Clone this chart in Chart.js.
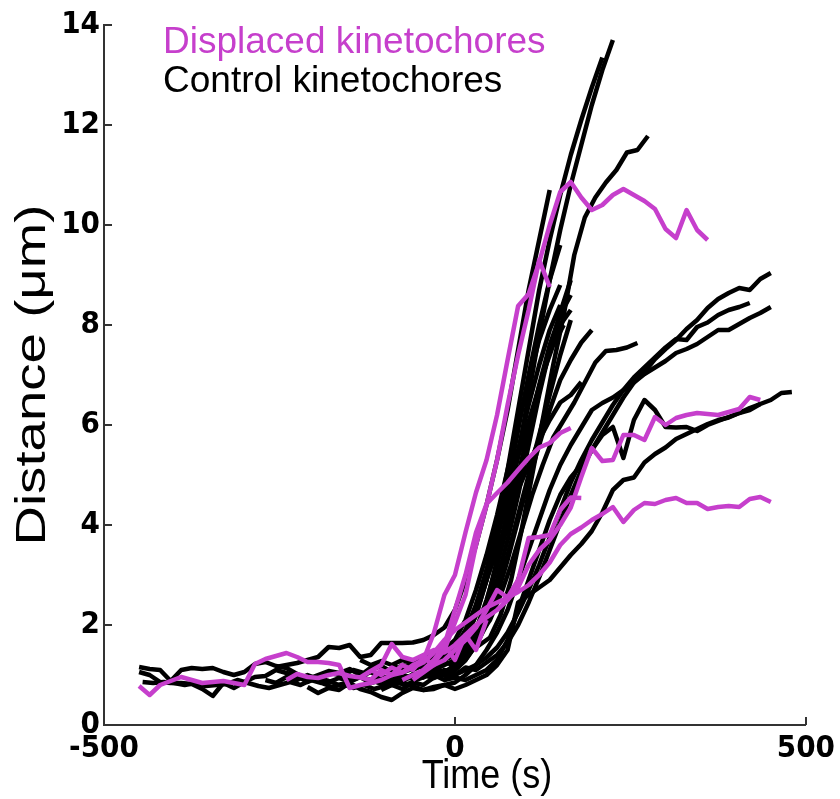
<!DOCTYPE html>
<html>
<head>
<meta charset="utf-8">
<script src="https://cdn.jsdelivr.net/npm/chart.js@4.4.1/dist/chart.umd.min.js"></script>
<style>
body { margin: 0; background: #fff; }
#wrap { width: 840px; height: 799px; }
</style>
</head>
<body>
<div id="wrap"><canvas id="mycanvas"></canvas></div>
<script>
// frames are 15 s apart, every trace starts at its own time
var STEP = 15;
var xTicks = [-500, 0, 500];
var yTicks = [0, 2, 4, 6, 8, 10, 12, 14];
var legendText = ['Displaced kinetochores', 'Control kinetochores'];
var xTitle = 'Time (s)';
var yTitle = 'Distance (\u03bcm)';
var MAGENTA = '#c63fcc';

/* control kinetochores (black) */
var ctl01 = [1.16,1.12,1.1,0.88,1.1,1.14,1.12,1.14,1.06,1.0,1.06,1.22,1.26,1.18,1.14,1.02,0.92,1.0,1.08,1.04,1.12,1.0,1.1,1.18,1.06,1.2,1.14,1.3,1.24,1.4,1.48,1.62,1.85,2.45,3.3,4.3,5.4,6.6,7.8,8.9,9.9,10.8,11.6,12.4,13.1,13.7];
var ctl02 = [1.06,1.0,0.86,0.84,0.84,0.82,0.72,0.58,0.84,0.74,0.86,0.96,0.98,1.1,1.04,0.98,0.86,0.94,0.88,0.8,0.86,0.96,0.9,0.98,0.88,1.0,0.94,1.08,1.2,1.35,1.55,1.9,2.4,3.1,4.0,5.1,6.3,7.5,8.7,9.7,10.6,11.4,12.1,12.75,13.35];
var ctl03 = [0.86,0.84,0.86,0.84,0.8,0.84,0.78,0.8,0.82,0.9,0.84,0.78,0.74,0.8,0.86,0.8,0.9,0.84,0.76,0.82,0.74,0.8,0.72,0.78,0.86,0.8,0.9,0.98,1.05,1.1,1.25,1.45,1.6,1.75,2.2,2.9,3.9,5.0,6.1,7.2,8.2,9.4,10.15,10.55,10.85,11.1,11.45,11.5,11.78];
var ctl04 = [1.16,1.2,1.24,1.3,1.36,1.56,1.54,1.6,1.36,1.4,1.64,1.64,1.64,1.65,1.7,1.8,1.95,2.3,2.9,3.6,4.4,5.3,6.3,7.5,8.7,9.7,10.7];
var ctl05 = [1.1,1.2,1.35,1.3,1.5,1.75,2.2,2.9,3.8,4.8,5.9,7.0,8.0,8.9,9.6];
var ctl06 = [0.9,1.0,0.95,1.1,1.2,1.3,1.45,1.7,2.2,2.9,3.7,4.6,5.6,6.6,7.5,8.25,8.9];
var ctl07 = [1.0,1.15,1.05,1.2,1.4,1.8,2.4,3.2,4.1,5.0,5.9,6.8,7.6,8.2,8.6];
var ctl08 = [0.9,0.82,0.95,0.88,1.02,0.96,1.1,1.25,1.2,1.5,1.9,2.5,3.2,4.0,4.9,5.8,6.7,7.5,8.0,8.3];
var ctl09 = [1.2,1.3,1.4,1.6,2.0,2.6,3.3,4.1,4.9,5.6,6.3,7.0,7.6,8.0];
var ctl10 = [0.7,0.8,0.72,0.85,0.8,0.95,1.0,1.1,1.3,1.6,2.0,2.6,3.3,4.1,4.9,5.6,6.3,6.9,7.3,7.65,7.9];
var ctl11 = [1.0,1.1,1.04,1.2,1.12,1.0,1.08,1.15,1.2,1.3,1.35,1.45,1.6,1.8,2.1,2.6,3.2,3.9,4.6,5.2,5.75,6.1,6.45,6.85,7.25,7.48,7.5,7.55,7.64];
var ctl12 = [0.95,1.05,1.0,0.9,0.96,1.06,0.92,1.0,0.9,0.96,1.05,0.98,1.1,1.0,1.15,1.1,1.25,1.4,1.65,2.0,2.45,2.95,3.5,4.05,4.6,5.1,5.5,5.85,6.2,6.55,6.85,7.06,7.32,7.52,7.7,7.92,8.1,8.34,8.52,8.64,8.74,8.7,8.92,9.04];
var ctl13 = [0.9,1.0,0.94,1.05,1.0,1.1,1.2,1.35,1.55,1.85,2.25,2.7,3.2,3.75,4.3,4.85,5.3,5.7,6.05,6.4,6.7,6.95,7.15,7.35,7.55,7.72,7.7,7.96,8.05,8.2,8.3,8.36,8.44];
var ctl14 = [0.76,0.64,0.74,0.7,0.84,0.72,0.66,0.56,0.5,0.64,0.74,0.7,0.72,0.8,0.85,1.0,1.2,1.5,1.85,2.3,2.9,3.5,4.1,4.7,5.2,5.6,5.95,6.3,6.44,6.55,6.7,6.85,7.02,7.15,7.28,7.44,7.52,7.62,7.76,7.9,7.9,8.02,8.14,8.24,8.36];
var ctl15 = [0.9,0.84,0.96,0.9,1.0,0.92,0.86,0.94,0.88,0.96,0.84,0.9,0.8,0.86,0.78,0.7,0.76,0.8,0.72,0.8,0.9,1.0,1.2,1.5,2.45,2.6,2.75,2.9,3.15,3.4,3.62,3.88,4.25,4.7,4.9,4.95,5.25,5.42,5.55,5.72,5.82,5.92,6.02,6.1,6.15,6.24,6.3,6.42,6.5,6.64,6.66];
var ctl16 = [1.0,0.9,0.95,0.9,1.0,1.1,1.3,1.7,2.3,2.9,3.5,4.1,4.6,4.95,5.2,5.5,5.8,5.96,5.34,6.1,6.5,6.3,5.96,5.95,5.96,5.88,6.0,6.08,6.16,6.24,6.34,6.42];
var ctl17 = [1.2,1.1,1.25,1.15,1.3,1.4,1.5,1.8,2.3,2.9,3.5,4.1,4.7,5.2,5.7,6.1,6.45,6.6,6.86];
var ctl18 = [1.2,1.3,1.4,1.7,2.2,2.9,3.7,4.6,5.5,6.4,7.2,7.9,8.4];
var ctl19 = [0.9,1.1,1.3,1.6,2.1,2.7,3.4,4.2,5.0,5.8,6.6,7.4,8.1];
var ctl20 = [1.3,1.2,1.28,1.2,1.3,1.22,1.35,1.4,1.5,1.7,2.1,2.7,3.4,4.2,5.1,6.0,6.9,7.7,8.3,8.8];
var control = [ctl01,ctl02,ctl03,ctl04,ctl05,ctl06,ctl07,ctl08,ctl09,ctl10,ctl11,ctl12,ctl13,ctl14,ctl15,ctl16,ctl17,ctl18,ctl19,ctl20];
var controlStarts = [-450,-450,-445,-255,-60,-75,-45,-120,-40,-105,-160,-195,-60,-210,-270,-30,-90,-30,-15,-135];

/* displaced kinetochores (magenta) */
var dis01 = [0.78,0.6,0.8,0.88,0.96,0.9,0.84,0.86,0.88,0.84,0.8,1.22,1.32,1.38,1.44,1.36,1.26,1.26,1.24,1.2,0.74,0.8,0.84,0.9,1.0,1.05,1.15,1.25,1.45,1.7,1.9,2.05,2.2,2.35,2.45,2.55,2.66,2.8,3.0,3.25,3.6,3.82,3.95,4.1,4.22,4.36,4.06,4.3,4.44,4.42,4.5,4.54,4.44,4.44,4.32,4.36,4.38,4.36,4.52,4.56,4.46];
var dis02 = [0.9,1.02,0.96,0.94,1.0,1.04,0.98,0.95,1.08,1.2,1.62,1.36,1.3,1.4,1.5,1.45,1.6,1.8,2.0,2.15,2.3,2.5,2.75,3.2,3.5,3.7,4.0,4.35,4.96,5.54,5.28,5.3,5.8,5.8,5.7,6.16,6.0,6.14,6.2,6.24,6.22,6.2,6.26,6.32,6.56,6.5];
var dis03 = [1.1,1.0,1.15,1.05,1.2,1.3,1.84,2.6,3.0,3.85,4.65,5.3,6.2,7.3,8.38,8.62,9.25,10.0,10.66,10.86,10.55,10.3,10.4,10.6,10.72,10.6,10.48,10.32,9.92,9.74,10.3,9.9,9.7];
var dis04 = [0.95,1.1,1.25,1.5,2.05,2.6,3.6,4.4,5.3,6.4,7.4,8.3,9.3,8.76];
var dis05 = [0.9,1.0,1.1,1.3,1.6,2.3,3.0,3.85,4.42,4.64,4.85,5.1,5.34,5.55,5.64,5.84,5.94];
var dis06 = [0.9,1.05,1.2,1.3,1.5,1.7,1.95,2.3,2.7,2.55,2.9,3.74,3.76,3.8,4.3,4.55,4.54];
var dis07 = [0.95,0.9,1.1,1.0,1.2,1.1,1.35,1.2,1.6,1.3,1.8,1.5,2.1];
var displaced = [dis01,dis02,dis03,dis04,dis05,dis06,dis07];
var displacedStarts = [-450,-240,-120,-60,-75,-60,-135];

function toPoints(start, vals) {
	var pts = [];
	for (var i = 0; i < vals.length; i++) {
		pts.push({x: start + i * STEP, y: vals[i]});
	}
	return pts;
}

function trace(vals, start, color) {
	return {
		data: toPoints(start, vals),
		borderColor: color,
		borderWidth: 4.5,
		pointRadius: 0,
		tension: 0,
		fill: false,
		borderJoinStyle: 'round'
	};
}

// first dataset is painted last, so magenta goes first to sit on top
var datasets = [];
for (var i in displaced) datasets.push(trace(displaced[i], displacedStarts[i], MAGENTA));
for (var j in control) datasets.push(trace(control[j], controlStarts[j], '#000'));

var SANS = '"Liberation Sans", Arial, sans-serif';
var NARROW = '"Liberation Sans Narrow", "Arial Narrow", "DejaVu Sans Condensed", "Liberation Sans", Arial, sans-serif';

/* inward tick marks, axis titles and the coloured text legend */
var decor = {
	id: 'decor',
	afterDraw: function(chart) {
		var c = chart.ctx, a = chart.chartArea;
		var sx = chart.scales.x, sy = chart.scales.y;
		c.save();
		c.strokeStyle = '#333';
		c.lineWidth = 2;
		c.beginPath();
		yTicks.forEach(function(v) {
			var py = Math.round(sy.getPixelForValue(v));
			c.moveTo(a.left, py); c.lineTo(a.left + 8, py);
		});
		xTicks.forEach(function(v) {
			var px = Math.round(sx.getPixelForValue(v));
			c.moveTo(px, a.bottom); c.lineTo(px, a.bottom - 8);
		});
		c.stroke();

		c.fillStyle = '#000';
		c.textAlign = 'center';
		c.textBaseline = 'alphabetic';
		c.font = '40px ' + SANS;
		c.save();
		c.translate(487, 788);
		c.scale(0.9, 1);
		c.fillText(xTitle, 0, 0);
		c.restore();

		c.font = '43px ' + SANS;
		c.save();
		c.translate(45, 375);
		c.rotate(-Math.PI / 2);
		c.scale(1.27, 1);
		c.fillText(yTitle, 0, 0);
		c.restore();

		c.textAlign = 'left';
		c.font = '37px ' + SANS;
		c.fillStyle = MAGENTA;
		c.fillText(legendText[0], 163, 53);
		c.fillStyle = '#000';
		c.fillText(legendText[1], 163, 92);
		c.restore();
	}
};

var tickFont = { family: NARROW, weight: 'bold', size: 31 };

var ctx = document.getElementById('mycanvas');
var chart = new Chart(ctx, {
	type: 'line',
	data: { datasets: datasets },
	options: {
		responsive: true,
		maintainAspectRatio: false,
		animation: false,
		layout: { padding: { left: 0, right: 34, top: 25, bottom: 0 } },
		plugins: { legend: { display: false }, tooltip: { enabled: false } },
		scales: {
			x: {
				type: 'linear',
				min: -500,
				max: 500,
				afterBuildTicks: function(s) { s.ticks = xTicks.map(function(v) { return {value: v}; }); },
				afterFit: function(s) { s.height = 74; },
				grid: { display: false, drawTicks: false },
				border: { color: '#333', width: 2 },
				ticks: { color: '#000', padding: 5, maxRotation: 0, autoSkip: false, font: tickFont }
			},
			y: {
				type: 'linear',
				min: 0,
				max: 14,
				afterBuildTicks: function(s) { s.ticks = yTicks.map(function(v) { return {value: v}; }); },
				afterFit: function(s) { s.width = 104; },
				grid: { display: false, drawTicks: false },
				border: { color: '#333', width: 2 },
				ticks: { color: '#000', padding: 4, autoSkip: false, font: tickFont }
			}
		}
	},
	plugins: [decor]
});
</script>
</body>
</html>
